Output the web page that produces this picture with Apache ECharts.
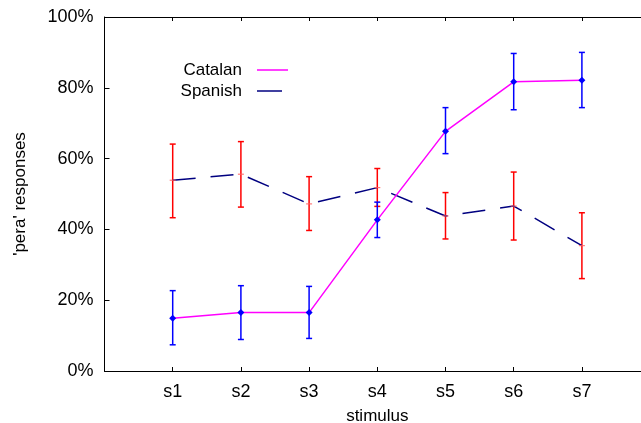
<!DOCTYPE html>
<html>
<head>
<meta charset="utf-8">
<script src="https://cdn.jsdelivr.net/npm/echarts@6/dist/echarts.min.js"></script>
<style>html,body{margin:0;padding:0;background:#fff}#c{width:641px;height:423px}</style>
</head>
<body>
<div id="c"></div>
<script>
var categories = ['s1','s2','s3','s4','s5','s6','s7'];
var catalanMean = [14.9, 16.5, 16.5, 42.7, 67.7, 81.7, 82.1];
var catalanLow  = [7.4, 8.9, 9.2, 37.7, 61.4, 73.8, 74.4];
var catalanHigh = [22.7, 24.1, 23.9, 47.7, 74.4, 89.7, 90.0];
var spanishMean = [53.9, 55.6, 47.2, 51.8, 43.8, 46.6, 35.4];
var spanishLow  = [43.3, 46.3, 39.7, 46.5, 37.3, 37.0, 26.1];
var spanishHigh = [64.1, 64.8, 54.9, 57.2, 50.4, 56.2, 44.7];
var yTicks = [0, 20, 40, 60, 80, 100];

var FONT = 'Liberation Sans, Arial, sans-serif';
var axisCats = [''].concat(categories).concat(['']);

function idx(i){ return i + 1; }
function errData(lo, hi){ return lo.map(function(v,i){ return [idx(i), v, hi[i]]; }); }
function lineData(m){ return m.map(function(v,i){ return [idx(i), v]; }); }

function errRender(color){
  return function(params, api){
    var x = api.value(0);
    var lo = api.coord([x, api.value(1)]);
    var hi = api.coord([x, api.value(2)]);
    var w = 3;
    var st = {stroke: color, lineWidth: 1.5};
    return {type:'group', children:[
      {type:'line', shape:{x1:lo[0], y1:lo[1], x2:hi[0], y2:hi[1]}, style:st},
      {type:'line', shape:{x1:lo[0]-w, y1:lo[1], x2:lo[0]+w, y2:lo[1]}, style:st},
      {type:'line', shape:{x1:hi[0]-w, y1:hi[1], x2:hi[0]+w, y2:hi[1]}, style:st}
    ]};
  };
}

var chart = echarts.init(document.getElementById('c'), null, {renderer:'canvas'});
chart.setOption({
  animation: false,
  backgroundColor: '#fff',
  grid: {left: 104.5, width: 545.6, top: 17, height: 354, containLabel: false, outerBoundsMode: 'none'},
  xAxis: [{
    type: 'value', min: 0, max: 8, interval: 1, position: 'bottom',
    name: 'stimulus', nameLocation: 'middle', nameGap: 37,
    nameTextStyle: {fontFamily: FONT, fontSize: 17, color: '#000'},
    axisLine: {lineStyle: {color: '#000', width: 1}},
    axisTick: {inside: true, length: 4, lineStyle: {color: '#000'}},
    axisLabel: {fontFamily: FONT, fontSize: 18, color: '#000', margin: 12,
      formatter: function(v){ return axisCats[v] || ''; }},
    splitLine: {show: false}
  },{
    type: 'value', min: 0, max: 8, interval: 1, position: 'top',
    axisLine: {lineStyle: {color: '#000', width: 1}},
    axisTick: {inside: true, length: 4, lineStyle: {color: '#000'}},
    axisLabel: {show: false},
    splitLine: {show: false}
  }],
  yAxis: {
    type: 'value', min: 0, max: 100, interval: 20,
    name: "'pera' responses", nameLocation: 'middle', nameGap: 76, nameRotate: 90,
    nameTextStyle: {fontFamily: FONT, fontSize: 17, color: '#000'},
    axisLine: {show: true, lineStyle: {color: '#000', width: 1}},
    axisTick: {inside: true, length: 5, lineStyle: {color: '#000'}},
    axisLabel: {fontFamily: FONT, fontSize: 18, color: '#000', margin: 11,
      formatter: function(v){ return yTicks.indexOf(v) >= 0 ? v + '%' : ''; }},
    splitLine: {show: false}
  },
  series: [
    {type: 'custom', name: 'SpanishErr', renderItem: errRender('#ff0000'),
     data: errData(spanishLow, spanishHigh), encode: {x: 0, y: [1, 2]}, z: 2},
    {type: 'custom', name: 'CatalanErr', renderItem: errRender('#0000ff'),
     data: errData(catalanLow, catalanHigh), encode: {x: 0, y: [1, 2]}, z: 2},
    {type: 'line', name: 'Spanish', data: lineData(spanishMean),
     lineStyle: {color: '#000080', width: 1.5, type: [23, 15]},
     symbol: 'rect', symbolSize: [6, 1], itemStyle: {color: '#ff6060'}, z: 3},
    {type: 'line', name: 'Catalan', data: lineData(catalanMean),
     lineStyle: {color: '#ff00ff', width: 1.5},
     symbol: 'diamond', symbolSize: 7, itemStyle: {color: '#0000ff'}, z: 4}
  ],
  graphic: [
    {type: 'text', x: 242, y: 70, style: {text: 'Catalan', fontFamily: FONT, fontSize: 17, fill: '#000', align: 'right', verticalAlign: 'middle'}},
    {type: 'line', shape: {x1: 257, y1: 70, x2: 288, y2: 70}, style: {stroke: '#ff00ff', lineWidth: 1.5}},
    {type: 'text', x: 242, y: 91, style: {text: 'Spanish', fontFamily: FONT, fontSize: 17, fill: '#000', align: 'right', verticalAlign: 'middle'}},
    {type: 'line', shape: {x1: 257, y1: 91, x2: 282, y2: 91}, style: {stroke: '#000080', lineWidth: 1.5}}
  ]
});
</script>
</body>
</html>
